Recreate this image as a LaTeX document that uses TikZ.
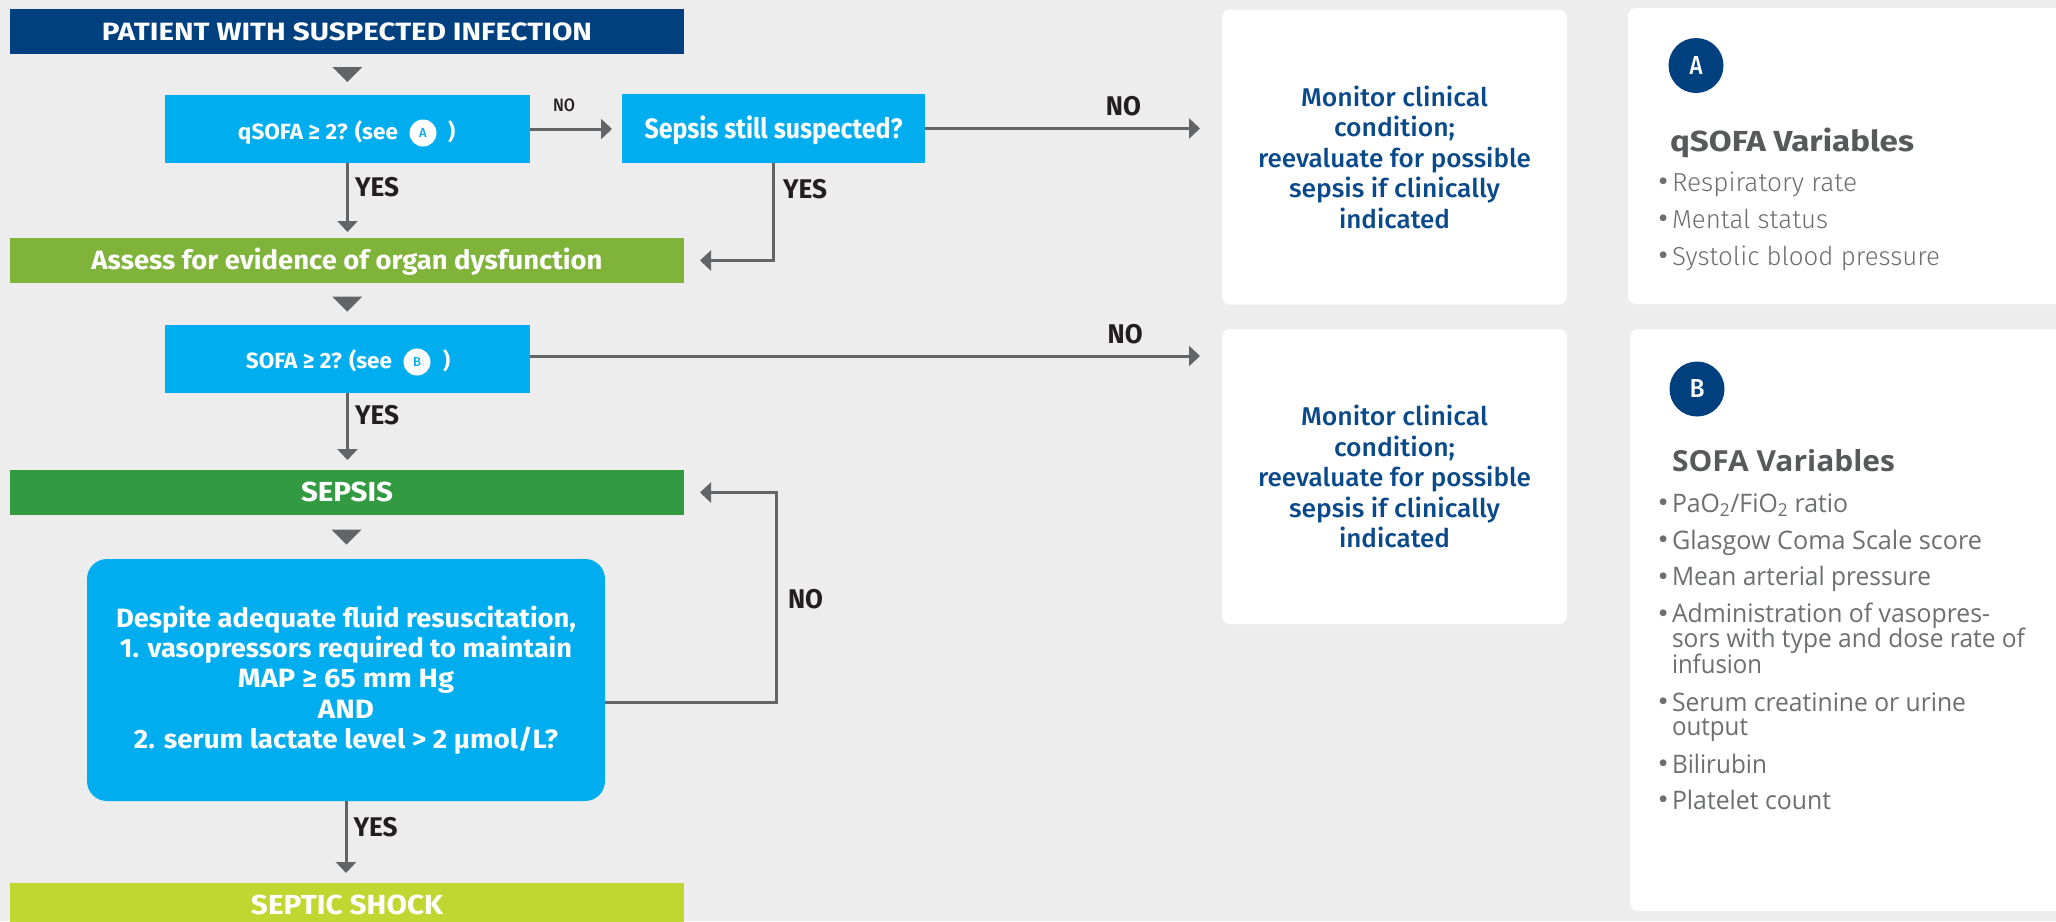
\documentclass[tikz,border=0pt]{standalone}
\usepackage{graphicx}
\usepackage{fontspec}
\setmainfont{Fira Sans}
\IfFontExistsTF{Fira Sans Medium}{\newfontfamily\firamed{Fira Sans Medium}}{\newfontfamily\firamed{Fira Sans}}
\IfFontExistsTF{Fira Sans Light}{\newfontfamily\firalight{Fira Sans Light}}{\newfontfamily\firalight{Fira Sans}}
\newfontfamily\opensans{Open Sans}
\usetikzlibrary{arrows.meta,calc}

\definecolor{bg}{HTML}{EDEDED}
\definecolor{navy}{HTML}{00407F}
\definecolor{cyanbox}{HTML}{00AEEF}
\definecolor{greenA}{HTML}{80B33A}
\definecolor{greenS}{HTML}{329B41}
\definecolor{lime}{HTML}{BFD730}
\definecolor{arrowgray}{HTML}{636466}
\definecolor{labelblack}{HTML}{231F20}
\definecolor{monblue}{HTML}{0A4A8A}
\definecolor{titlegray}{HTML}{58595B}
\definecolor{itemgray}{HTML}{6D6E71}

\newcommand\fitw[2]{\resizebox{#1pt}{\height}{#2}}
\newcommand\fsz[1]{\bfseries\fontsize{#1}{#1}\selectfont}
\newcommand\bul{\llap{\raisebox{-0.5pt}{\fontfamily{\familydefault}\fontsize{30}{30}\selectfont •}\hspace{4pt}}}

\begin{document}
\begin{tikzpicture}[x=1pt,y=-1pt,
 every node/.style={inner sep=0pt,outer sep=0pt},
 bar/.style={minimum width=674pt,minimum height=45pt,text=white},
 qbox/.style={fill=cyanbox,text=white,align=center},
 caps/.style={text height=#1,text depth=0pt},
 qlabel/.style={text=white,font=\fsz{22},caps=15.2pt},
 inbadge/.style={circle,fill=white,minimum size=27pt,text=cyanbox,font=\firamed\fontsize{13}{13}\selectfont},
 arr/.style={draw=arrowgray,line width=3pt,-{Triangle[width=20pt,length=11pt]}},
 yes/.style={font=\fsz{27},text=labelblack,caps=18.6pt},
 nosmall/.style={font=\firamed\fontsize{18}{18}\selectfont,text=labelblack,caps=12.4pt},
 mon/.style={fill=white,rounded corners=8pt,minimum width=345pt,minimum height=295pt,text=monblue,align=center,font=\firamed\fontsize{25.7}{30.5}\selectfont},
 panel/.style={fill=white,rounded corners=8pt,anchor=north west},
 badge/.style={circle,fill=navy,minimum size=55pt,text=white,font=\firamed\fontsize{26}{26}\selectfont},
 titleA/.style={anchor=base west,text=titlegray,font=\fsz{29}},
 titleB/.style={anchor=base west,text=titlegray,font=\opensans\fsz{29}},
 itemA/.style={anchor=base west,text=itemgray,font=\firalight\fontsize{26}{26}\selectfont},
 itemB/.style={anchor=base west,text=itemgray,font=\opensans\fontsize{25.5}{25.5}\selectfont},
 tri/.style={fill=arrowgray}
]
\useasboundingbox (0,0) rectangle (2056,921);
\clip (0,0) rectangle (2056,921);
\fill[bg] (0,0) rectangle (2056,921);

% flowchart boxes
\node[bar,fill=navy,font=\fsz{25},caps=17.2pt] (banner) at (347,31.5) {\fitw{490}{PATIENT WITH SUSPECTED INFECTION}};
\node[qbox,minimum width=365pt,minimum height=68pt] (q) at (347.5,129) {};
\node[qlabel,anchor=east] (qt) at ([xshift=50.5pt,yshift=-3pt]q.center) {\fitw{160}{qSOFA ≥ 2? (see}};
\node[inbadge] (qA) at ([xshift=25pt,yshift=-1pt]qt.east) {A};
\node[qlabel,anchor=west] (qp) at ([xshift=25pt,yshift=1pt]qA.center) {)};
\node[qbox,minimum width=303pt,minimum height=69pt,font=\fsz{28},caps=19.3pt] (sep) at (773.5,128.5) {\fitw{258}{Sepsis still suspected?}};
\node[bar,fill=greenA,font=\fsz{26.5},caps=18.3pt] (assess) at (347,260.5) {\fitw{511}{Assess for evidence of organ dysfunction}};
\node[qbox,minimum width=365pt,minimum height=68pt] (sofa) at (347.5,359) {};
\node[qlabel,anchor=east] (st) at ([xshift=44.5pt,yshift=-2pt]sofa.center) {\fitw{146}{SOFA ≥ 2? (see}};
\node[inbadge] (sB) at ([xshift=25pt,yshift=-1pt]st.east) {B};
\node[qlabel,anchor=west] (sp) at ([xshift=26pt,yshift=1pt]sB.center) {)};
\node[bar,fill=greenS,font=\fsz{27.5},caps=18.9pt] (sepsis) at (347,492.5) {\fitw{92}{SEPSIS}};
\node[qbox,rounded corners=20pt,minimum width=518pt,minimum height=242pt,font=\bfseries\fontsize{26.5}{30.4}\selectfont] (big) at (346,680)
 {\fitw{460}{Despite adequate fluid resuscitation,}\\\fitw{452}{1. vasopressors required to maintain}\\\fitw{216}{MAP ≥ 65 mm Hg}\\\fitw{56}{AND}\\\fitw{424}{2. serum lactate level > 2 µmol/L?}};
\node[bar,fill=lime,font=\fsz{27.5},caps=18.9pt] (shock) at (347,905.5) {\fitw{192}{SEPTIC SHOCK}};

% monitor boxes
\node[mon] (mon1) at (1394.5,157) {\fitw{187}{Monitor clinical}\\\fitw{121}{condition;}\\\fitw{273}{reevaluate for possible}\\\fitw{211}{sepsis if clinically}\\\fitw{111}{indicated}};
\node[mon] (mon2) at (1394.5,476.5) {\fitw{187}{Monitor clinical}\\\fitw{121}{condition;}\\\fitw{273}{reevaluate for possible}\\\fitw{211}{sepsis if clinically}\\\fitw{111}{indicated}};

% panels
\node[panel,minimum width=440pt,minimum height=296pt] (panA) at (1628,8) {};
\node[panel,minimum width=440pt,minimum height=582pt] (panB) at (1630,329) {};
\node[badge] (bA) at (1696,65.5) {\fitw{13}{A}};
\node[badge] (bB) at (1697,389) {\fitw{15}{B}};
\node[titleA] (tA) at (1670,151) {\fitw{244}{qSOFA Variables}};
\node[itemA] (a1) at (1672,191) {\bul\fitw{185}{Respiratory rate}};
\node[itemA] (a2) at (1672,228) {\bul\fitw{156}{Mental status}};
\node[itemA] (a3) at (1672,265) {\bul\fitw{268}{Systolic blood pressure}};
\node[titleB] (tB) at (1672,471) {\fitw{223}{SOFA Variables}};
\node[itemB] (b1) at (1672,512) {\bul\fitw{176}{PaO\textsubscript{2}/FiO\textsubscript{2} ratio}};
\node[itemB] (b2) at (1672,549) {\bul\fitw{310}{Glasgow Coma Scale score}};
\node[itemB] (b3) at (1672,585.5) {\bul\fitw{259}{Mean arterial pressure}};
\node[itemB] (b4) at (1672,622.5) {\bul\fitw{318}{Administration of vasopres-}};
\node[itemB] (b4b) at (1672,647.5) {\fitw{353}{sors with type and dose rate of}};
\node[itemB] (b4c) at (1672,673) {\fitw{90}{infusion}};
\node[itemB] (b5) at (1672,711) {\bul\fitw{294}{Serum creatinine or urine}};
\node[itemB] (b5b) at (1672,735) {\fitw{76}{output}};
\node[itemB] (b6) at (1672,773) {\bul\fitw{95}{Bilirubin}};
\node[itemB] (b7) at (1672,809) {\bul\fitw{159}{Platelet count}};

% standalone down triangles
\fill[tri] ($(banner.south)!0.5!(q.north)+(-15,-7.5)$) -- ++(30,0) -- ++(-15,15) -- cycle;
\fill[tri] ($(assess.south)!0.5!(sofa.north)+(-15,-7.5)$) -- ++(30,0) -- ++(-15,15) -- cycle;
\fill[tri] ($(sepsis.south)!0.5!(big.north)+(-15,-7.5)$) -- ++(30,0) -- ++(-15,15) -- cycle;

% connectors
\draw[arr,shorten >=10pt] (q.east) -- node[pos=0.37,above=18pt,nosmall]{\fitw{22}{NO}} (q.east -| sep.west);
\draw[arr,shorten >=22pt] (sep.east) -- node[pos=0.668,above=13.5pt,yes]{\fitw{35}{NO}} (sep.east -| mon1.west);
\draw[arr,shorten >=6pt] (q.south) -- node[pos=0.327,right=7.5pt,yes]{\fitw{44}{YES}} (q.south |- assess.north);
\draw[arr,shorten >=16pt] (sep.south) |- node[pos=0.133,right=9.5pt,yes]{\fitw{44}{YES}} (assess.east);
\draw[arr,shorten >=22pt] ([yshift=3pt]sofa.east) -- node[pos=0.86,above=13pt,yes]{\fitw{35}{NO}} ([yshift=3pt]sofa.east -| mon2.west);
\draw[arr,shorten >=10pt] (sofa.south) -- node[pos=0.292,right=7.5pt,yes]{\fitw{44}{YES}} (sofa.south |- sepsis.north);
\draw[arr,shorten >=16pt] ([yshift=-22pt]big.east) -- ++(171,0) |- node[pos=0.246,right=12pt,yes]{\fitw{35}{NO}} (sepsis.east);
\draw[arr,shorten >=10pt] (big.south) -- node[pos=0.325,right=7.5pt,yes]{\fitw{44}{YES}} (big.south |- shock.north);
\end{tikzpicture}
\end{document}
